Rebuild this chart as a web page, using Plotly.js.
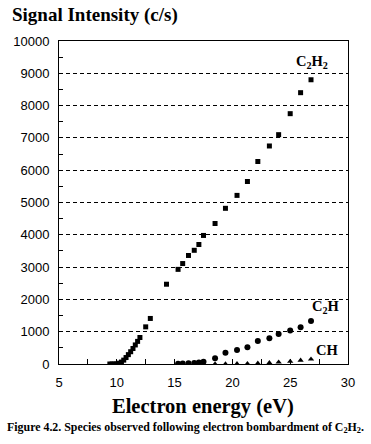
<!DOCTYPE html>
<html>
<head>
<meta charset="utf-8">
<script src="https://cdn.plot.ly/plotly-3.0.1.min.js"></script>
<style>html,body{margin:0;padding:0;background:#fff;}#chart{width:371px;height:444px;}</style>
</head>
<body>
<div id="chart"></div>
<script>
// Electron energy (eV) and signal intensity (c/s)
var c2h2X = [9.4, 9.6, 9.8, 10.0, 10.2, 10.4, 10.6, 10.8, 11.0, 11.2, 11.4, 11.6, 11.8, 12.0, 12.5, 12.9, 14.3, 15.3, 15.7, 16.2, 16.7, 17.1, 17.5, 18.5, 19.4, 20.4, 21.3, 22.2, 23.2, 24.0, 25.0, 25.9, 26.8];
var c2h2Y = [0, 0, 0, 5, 25, 60, 120, 200, 290, 380, 480, 590, 700, 820, 1150, 1410, 2470, 2930, 3110, 3360, 3520, 3700, 3980, 4350, 4820, 5220, 5650, 6270, 6750, 7100, 7750, 8400, 8800];
var c2hX = [15.3, 15.7, 16.2, 16.7, 17.1, 17.5, 18.5, 19.4, 20.4, 21.3, 22.2, 23.2, 24.0, 25.0, 25.9, 26.8];
var c2hY = [10, 15, 20, 30, 50, 70, 180, 350, 430, 520, 710, 800, 930, 1040, 1140, 1330];
var chX = [18.5, 19.4, 20.4, 21.3, 22.2, 23.2, 24.0, 25.0, 25.9, 26.8];
var chY = [0, 0, 5, 10, 20, 35, 55, 80, 115, 150];
var seriesLabels = ["C<sub>2</sub>H<sub>2</sub>", "C<sub>2</sub>H", "CH"];
var labelX = [26.9, 28.1, 28.2];
var labelY = [9350, 1770, 430];

var serif = "Liberation Serif, Times New Roman, serif";
var sans = "Liberation Sans, Arial, sans-serif";

var traces = [
  {x: c2h2X, y: c2h2Y, mode: "markers", type: "scatter", name: "C2H2",
   marker: {symbol: "square", size: 5, color: "#000"}, cliponaxis: true},
  {x: c2hX, y: c2hY, mode: "markers", type: "scatter", name: "C2H",
   marker: {symbol: "circle", size: 6, color: "#000"}, cliponaxis: true},
  {x: chX, y: chY, mode: "markers", type: "scatter", name: "CH",
   marker: {symbol: "triangle-up", size: 5.5, color: "#000"}, cliponaxis: true}
];

var annotations = seriesLabels.map(function (t, i) {
  return {x: labelX[i], y: labelY[i], xref: "x", yref: "y", text: "<b>" + t + "</b>", showarrow: false,
          font: {family: serif, size: 14.5, color: "#000"},
          xanchor: "center", yanchor: "middle"};
});
annotations.push({
  x: 0.497, y: 0, xref: "paper", yref: "paper", yshift: -42, text: "<b>Electron energy (eV)</b>",
  showarrow: false, xanchor: "center", yanchor: "middle",
  font: {family: serif, size: 20.5, color: "#000"}
});
annotations.push({
  x: 0.438, y: 0, xref: "paper", yref: "paper", yshift: -63,
  text: "<b>Figure 4.2. Species observed following electron bombardment of C<sub>2</sub>H<sub>2</sub>.</b>",
  showarrow: false, xanchor: "center", yanchor: "middle",
  font: {family: serif, size: 11.9, color: "#000"}
});

var layout = {
  width: 371, height: 444,
  margin: {l: 59, r: 23, t: 41, b: 80, pad: 0},
  paper_bgcolor: "#fff", plot_bgcolor: "#fff",
  showlegend: false,
  title: {text: "<b>Signal Intensity (c/s)</b>", x: 12 / 371, xanchor: "left", xref: "container",
          y: 1 - 14 / 444, yanchor: "middle", yref: "container",
          font: {family: serif, size: 19, color: "#000"}},
  xaxis: {range: [5, 30], dtick: 5, tick0: 5, ticks: "inside", ticklen: 5, tickcolor: "#000",
          showline: true, linecolor: "#000", linewidth: 1, mirror: true, showgrid: false, zeroline: false,
          minor: {dtick: 2.5, ticks: "inside", ticklen: 5, tickcolor: "#000"},
          tickfont: {family: sans, size: 13, color: "#000"}, ticklabelstandoff: 6},
  yaxis: {range: [0, 10000], dtick: 1000, tickformat: "d", ticks: "inside", ticklen: 4, tickcolor: "#000",
          showline: true, linecolor: "#000", linewidth: 1, mirror: true,
          showgrid: true, gridcolor: "#000", gridwidth: 1, griddash: "4px,3px", zeroline: false,
          minor: {dtick: 500, ticks: "inside", ticklen: 4, tickcolor: "#000", showgrid: false},
          tickfont: {family: sans, size: 13, color: "#000"}, ticklabelstandoff: 6},
  annotations: annotations
};

Plotly.newPlot("chart", traces, layout, {displayModeBar: false, staticPlot: true});
</script>
</body>
</html>
